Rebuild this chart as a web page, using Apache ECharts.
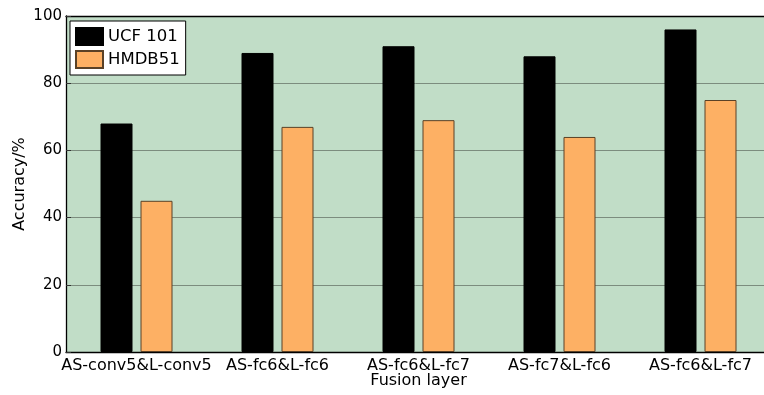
<!DOCTYPE html>
<html>
<head>
<meta charset="utf-8">
<script src="https://cdn.jsdelivr.net/npm/echarts@6/dist/echarts.min.js"></script>
<style>
html,body{margin:0;padding:0;background:#fff;}
#chart{width:764px;height:395px;}
</style>
</head>
<body>
<div id="chart"></div>
<script>
const categories = ['AS-conv5&L-conv5', 'AS-fc6&L-fc6', 'AS-fc6&L-fc7', 'AS-fc7&L-fc6', 'AS-fc6&L-fc7'];
const ucf101 = [68, 89, 91, 88, 96];
const hmdb51 = [45, 67, 69, 64, 75];
const yTicks = [0, 20, 40, 60, 80, 100];

const FONT = 'DejaVu Sans';
const chart = echarts.init(document.getElementById('chart'));
chart.setOption({
  animation: false,
  backgroundColor: '#ffffff',
  textStyle: { fontFamily: FONT },
  grid: { left: 66, top: 16, width: 705, height: 336, backgroundColor: '#c1ddc7', show: true, borderWidth: 0,
    containLabel: false, outerBoundsMode: 'none' },
  legend: {
    left: 70, top: 21, orient: 'vertical',
    backgroundColor: '#ffffff', borderColor: '#000', borderWidth: 1,
    padding: [6, 6, 6, 5], itemGap: 4, itemWidth: 27, itemHeight: 17, itemTextGap: 4,
    icon: 'rect',
    textStyle: { fontFamily: FONT, fontSize: 16.5, color: '#000' },
    data: ['UCF 101', 'HMDB51']
  },
  xAxis: [{
    type: 'category', data: categories, position: 'bottom',
    name: 'Fusion layer', nameLocation: 'middle', nameGap: 21, nameMoveOverlap: false,
    nameTextStyle: { fontFamily: FONT, fontSize: 16, color: '#000' },
    axisLine: { lineStyle: { color: '#000', width: 1.3 } },
    axisTick: { inside: true, alignWithLabel: true, length: 5, lineStyle: { color: '#333' } },
    axisLabel: { fontFamily: FONT, fontSize: 16, color: '#000', margin: 6, interval: 0 },
    splitLine: { show: false }
  }, {
    type: 'category', data: categories, position: 'top',
    axisLine: { lineStyle: { color: '#000', width: 1.3 } },
    axisTick: { inside: true, alignWithLabel: true, length: 5, lineStyle: { color: '#333' } },
    axisLabel: { show: false }
  }],
  yAxis: {
    type: 'value', min: 0, max: 100, interval: 20,
    name: 'Accuracy/%', nameLocation: 'middle', nameGap: 38, nameRotate: 90, nameMoveOverlap: false,
    nameTextStyle: { fontFamily: FONT, fontSize: 16, color: '#000' },
    axisLine: { show: true, lineStyle: { color: '#000', width: 1.3 } },
    axisTick: { show: true, inside: true, length: 5, lineStyle: { color: '#333' } },
    axisLabel: { fontFamily: FONT, fontSize: 15, color: '#000', margin: 4,
      formatter: v => yTicks.includes(v) ? String(v) : '' },
    splitLine: { show: true, lineStyle: { color: '#7c8c7e', width: 1 } }
  },
  series: [{
    name: 'UCF 101', type: 'bar', data: ucf101, barWidth: 32, barGap: '25%',
    itemStyle: { color: '#000000', borderColor: '#000', borderWidth: 1 }
  }, {
    name: 'HMDB51', type: 'bar', data: hmdb51, barWidth: 32, barGap: '25%',
    itemStyle: { color: '#fdb064', borderColor: '#5a4126', borderWidth: 1 }
  }]
});
</script>
</body>
</html>
